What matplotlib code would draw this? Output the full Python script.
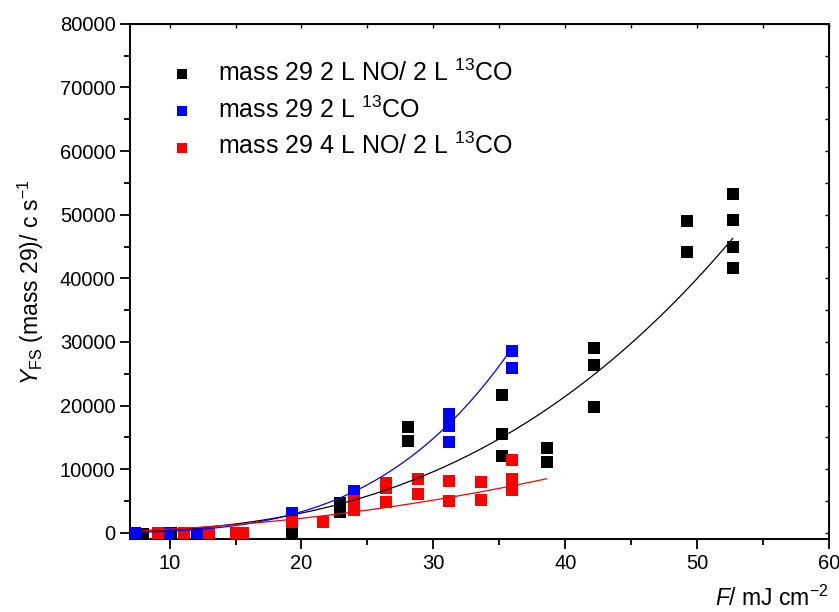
import numpy as np
import matplotlib
matplotlib.use("Agg")
import matplotlib.pyplot as plt
from matplotlib.ticker import MultipleLocator, NullFormatter

plt.rcParams["font.family"] = ["Liberation Sans", "DejaVu Sans"]
plt.rcParams["mathtext.fontset"] = "custom"
plt.rcParams["mathtext.rm"] = "Liberation Sans"
plt.rcParams["mathtext.it"] = "Liberation Sans:italic"

# Fluence F (mJ cm^-2) and mass-29 yield (counts/s)
x_no2 = [8.0, 10.1, 19.3, 22.9, 22.9, 28.1, 28.1, 35.2, 35.2, 35.2,
         38.6, 38.6, 42.2, 42.2, 42.2, 49.2, 49.2, 52.7, 52.7, 52.7, 52.7]
y_no2 = [-200, 0, -100, 4700, 3300, 16700, 14500, 21600, 15500, 12100,
         13300, 11100, 29100, 26300, 19700, 49000, 44200, 53300, 49200, 45000, 41700]

x_co = [7.35, 9.85, 12.05, 19.25, 24.0, 31.2, 31.2, 31.2, 36.0, 36.0]
y_co = [0, 0, 0, 3100, 6650, 18600, 16800, 14200, 28600, 25900]

x_no4 = [9.1, 11.1, 12.95, 15.0, 15.6, 19.25, 21.6, 24.0, 24.0,
         26.4, 26.4, 26.4, 28.8, 28.8, 31.2, 31.2, 33.6, 33.6,
         36.0, 36.0, 36.0]
y_no4 = [0, 0, 0, 0, 0, 1700, 1700, 5000, 3600,
         7850, 7100, 4900, 8500, 6100, 8100, 5000, 8000, 5100,
         11500, 8400, 6700]

# Power-law fit curves y = y_ref * (x / x_ref)**n
fit_no2 = dict(x0=8.0, x1=52.7, x_ref=52.3, y_ref=45300, n=2.79)
fit_co = dict(x0=7.3, x1=36.0, x_ref=35.6, y_ref=27950, n=3.7)
fit_no4 = dict(x0=8.0, x1=38.6, x_ref=38.6, y_ref=8500, n=2.0)

labels = [r"mass 29 2 L NO/ 2 L $^{13}$CO",
          r"mass 29 2 L $^{13}$CO",
          r"mass 29 4 L NO/ 2 L $^{13}$CO"]
colors = ["#000000", "#0000ff", "#ff0000"]

fig = plt.figure(figsize=(8.39, 6.12), dpi=100)
ax = fig.add_axes([0.155, 0.119, 0.833, 0.842])

series = [(x_no2, y_no2, fit_no2), (x_co, y_co, fit_co), (x_no4, y_no4, fit_no4)]
for (xs, ys, fit), lab, c in zip(series, labels, colors):
    ax.scatter(xs, ys, marker="s", s=66, color=c, linewidths=0, label=lab, zorder=3)
    xf = np.linspace(fit["x0"], fit["x1"], 200)
    yf = fit["y_ref"] * (xf / fit["x_ref"]) ** fit["n"]
    ax.plot(xf, yf, color=c, lw=0.9, zorder=4)

ax.set_xlim(7, 60)
ax.set_ylim(-1000, 80000)
ax.xaxis.set_major_locator(MultipleLocator(10))
ax.xaxis.set_minor_locator(MultipleLocator(5))
ax.yaxis.set_major_locator(MultipleLocator(10000))
ax.yaxis.set_minor_locator(MultipleLocator(5000))
ax.tick_params(which="major", direction="out", length=7, width=1.3, labelsize=14.5)
ax.tick_params(which="minor", direction="out", length=4, width=1.3)
for sp in ax.spines.values():
    sp.set_linewidth(1.4)

# Inward ticks on the top and right frame
top = ax.secondary_xaxis("top")
top.xaxis.set_major_locator(MultipleLocator(5))
top.xaxis.set_major_formatter(NullFormatter())
top.tick_params(direction="in", length=3, width=1.0)
right = ax.secondary_yaxis("right")
right.yaxis.set_major_locator(MultipleLocator(5000))
right.yaxis.set_major_formatter(NullFormatter())
right.tick_params(direction="in", length=3, width=1.0)

ax.set_ylabel(r"$\mathit{Y}_{\rm FS}$ (mass 29)/ c s$^{-1}$", fontsize=16.5, labelpad=10)
ax.set_xlabel(r"$\mathit{F}$/ mJ cm$^{-2}$", fontsize=16.5, loc="right", labelpad=9)

ax.legend(loc="upper left", bbox_to_anchor=(0.021, 0.975), frameon=False,
          fontsize=18, markerscale=0.8, handletextpad=0.85, handlelength=1.2,
          labelspacing=0.42, scatterpoints=1)

fig.savefig("out.png", dpi=100)
